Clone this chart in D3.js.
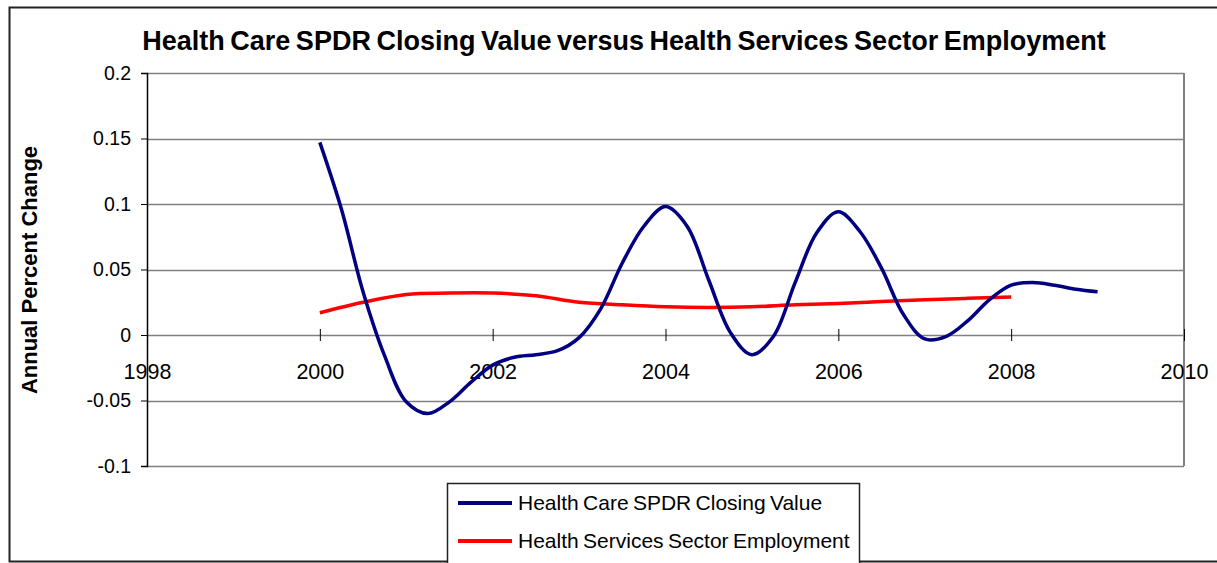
<!DOCTYPE html>
<html>
<head>
<meta charset="utf-8">
<script src="https://cdn.jsdelivr.net/npm/d3@7"></script>
<style>
  body { margin: 0; background: #fff; }
  svg { display: block; font-family: "Liberation Sans", Arial, sans-serif; }
</style>
</head>
<body>
<div id="chart"></div>
<script>
// --------------------------------------
//  Data
// --------------------------------------

const spdrYears = [2000, 2000.25, 2000.5, 2000.75, 2001, 2001.25, 2001.5, 2001.75,
  2002, 2002.25, 2002.5, 2002.75, 2003, 2003.25, 2003.5, 2003.75,
  2004, 2004.25, 2004.5, 2004.75, 2005, 2005.25, 2005.5, 2005.75,
  2006, 2006.25, 2006.5, 2006.75, 2007, 2007.25, 2007.5, 2007.75,
  2008, 2008.25, 2008.5, 2008.75, 2009];
const spdrValues = [0.147, 0.096, 0.033, -0.016, -0.051, -0.060, -0.051, -0.036,
  -0.023, -0.017, -0.015, -0.012, -0.002, 0.020, 0.055, 0.083,
  0.098, 0.083, 0.042, 0.002, -0.015, -0.001, 0.040, 0.078,
  0.094, 0.079, 0.051, 0.016, -0.003, -0.001, 0.011, 0.027,
  0.038, 0.040, 0.038, 0.035, 0.033];

const empYears = [2000, 2000.5, 2001, 2001.5, 2002, 2002.5, 2003, 2003.5,
  2004, 2004.5, 2005, 2005.5, 2006, 2006.5, 2007, 2007.5, 2008];
const empValues = [0.017, 0.025, 0.031, 0.032, 0.032, 0.030, 0.025, 0.023,
  0.0215, 0.021, 0.0215, 0.023, 0.024, 0.0255, 0.027, 0.028, 0.029];

const xTicks = [1998, 2000, 2002, 2004, 2006, 2008, 2010];
const yTicks = [-0.1, -0.05, 0, 0.05, 0.1, 0.15, 0.2];

const seriesNames = ["Health Care SPDR Closing Value", "Health Services Sector Employment"];
const seriesColors = ["#000080", "#ff0000"];

// --------------------------------------
//  Canvas
// --------------------------------------

const width = 1217;
const height = 563;
const plot = {left: 147, right: 1184, top: 73, bottom: 466};

const svg = d3.select("#chart")
  .append("svg")
    .attr("width", width)
    .attr("height", height);

// outer chart border (right side runs off the picture)
svg.append("rect")
  .attr("x", 9.5).attr("y", 7.5)
  .attr("width", 1230).attr("height", 554)
  .attr("fill", "none")
  .attr("stroke", "#222")
  .attr("stroke-width", 2);

// --------------------------------------
//  Scales
// --------------------------------------

const x = d3.scaleLinear()
  .domain([1998, 2010])
  .range([plot.left, plot.right]);

const y = d3.scaleLinear()
  .domain([-0.1, 0.2])
  .range([plot.bottom, plot.top]);

// --------------------------------------
//  Grid and plot frame
// --------------------------------------

svg.append("g")
  .selectAll("line")
  .data(yTicks)
  .join("line")
    .attr("x1", plot.left).attr("x2", plot.right)
    .attr("y1", d => Math.round(y(d)) + 0.5)
    .attr("y2", d => Math.round(y(d)) + 0.5)
    .attr("stroke", "#808080")
    .attr("stroke-width", 1.5);

svg.append("line")
  .attr("x1", plot.right).attr("x2", plot.right)
  .attr("y1", plot.top).attr("y2", plot.bottom)
  .attr("stroke", "#808080")
  .attr("stroke-width", 2);

// y axis
svg.append("g")
  .attr("transform", `translate(${plot.left}, 0)`)
  .call(d3.axisLeft(y)
    .tickValues(yTicks)
    .tickSize(6)
    .tickPadding(10)
    .tickFormat(d => String(+d.toFixed(2))))
  .call(g => g.select(".domain").attr("stroke", "#000").attr("stroke-width", 1.5))
  .call(g => g.selectAll(".tick line").attr("stroke", "#000"))
  .call(g => g.selectAll("text")
    .attr("font-size", 19.5)
    .attr("font-family", "Liberation Sans, Arial, sans-serif")
    .attr("fill", "#000"));

// x axis on the zero line, cross ticks
svg.append("g")
  .attr("transform", `translate(0, ${Math.round(y(0))})`)
  .call(d3.axisBottom(x)
    .tickValues(xTicks)
    .tickSize(6)
    .tickSizeOuter(0)
    .tickPadding(23)
    .tickFormat(d3.format("d")))
  .call(g => g.select(".domain").remove())
  .call(g => g.selectAll(".tick line").attr("y1", -6).attr("stroke", "#000"))
  .call(g => g.selectAll("text")
    .attr("font-size", 21.5)
    .attr("font-family", "Liberation Sans, Arial, sans-serif")
    .attr("fill", "#000"));

// --------------------------------------
//  Lines
// --------------------------------------

const lineGen = d3.line()
  .x(d => x(d[0]))
  .y(d => y(d[1]))
  .curve(d3.curveCatmullRom.alpha(0.5));

svg.append("path")
  .attr("d", lineGen(d3.zip(empYears, empValues)))
  .attr("fill", "none")
  .attr("stroke", seriesColors[1])
  .attr("stroke-width", 3.5);

svg.append("path")
  .attr("d", lineGen(d3.zip(spdrYears, spdrValues)))
  .attr("fill", "none")
  .attr("stroke", seriesColors[0])
  .attr("stroke-width", 3.5);

// --------------------------------------
//  Titles
// --------------------------------------

svg.append("text")
  .attr("x", 624)
  .attr("y", 50)
  .attr("text-anchor", "middle")
  .attr("font-size", 27)
  .attr("font-weight", "bold")
  .attr("word-spacing", -2)
  .text("Health Care SPDR Closing Value versus Health Services Sector Employment");

svg.append("text")
  .attr("transform", "translate(37, 270) rotate(-90)")
  .attr("text-anchor", "middle")
  .attr("font-size", 22)
  .attr("font-weight", "bold")
  .text("Annual Percent Change");

// --------------------------------------
//  Legend
// --------------------------------------

const legend = svg.append("g");

legend.append("rect")
  .attr("x", 447.5).attr("y", 483.5)
  .attr("width", 412).attr("height", 90)
  .attr("fill", "#fff")
  .attr("stroke", "#222")
  .attr("stroke-width", 1.5);

legend.selectAll("g")
  .data(seriesNames)
  .join("g")
    .attr("transform", (d, i) => `translate(458, ${503 + i * 38})`)
    .call(g => g.append("line")
      .attr("x1", 0).attr("x2", 54)
      .attr("stroke", (d, i) => seriesColors[i])
      .attr("stroke-width", 4))
    .call(g => g.append("text")
      .attr("x", 60)
      .attr("y", 7)
      .attr("font-size", 21)
      .attr("word-spacing", -1.5)
      .text(d => d));
</script>
</body>
</html>
